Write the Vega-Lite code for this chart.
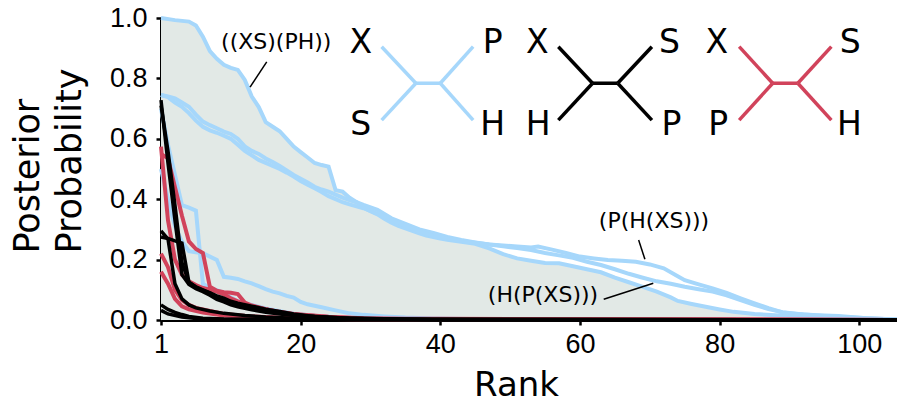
{
  "$schema": "https://vega.github.io/schema/vega-lite/v6.json",
  "width": 736,
  "height": 302,
  "autosize": {"type": "none"},
  "padding": {"left": 161, "top": 18, "right": 0, "bottom": 81},
  "background": "white",
  "config": {
    "view": {"stroke": null},
    "font": "DejaVu Sans",
    "axis": {
      "grid": false,
      "domainColor": "black",
      "domainWidth": 3,
      "tickColor": "black",
      "tickWidth": 2.5,
      "tickSize": 5,
      "labelColor": "black",
      "titleColor": "black",
      "labelFont": "Liberation Sans",
      "labelFontSize": 27,
      "titleFont": "DejaVu Sans",
      "titleFontWeight": "normal",
      "labelFlush": false
    }
  },
  "datasets": {
    "curves": [
      {"series": "((XS)(PH))", "topology": "XS|PH", "rank": 1, "prob": 1.0},
      {"series": "((XS)(PH))", "topology": "XS|PH", "rank": 3, "prob": 0.993},
      {"series": "((XS)(PH))", "topology": "XS|PH", "rank": 5, "prob": 0.988},
      {"series": "((XS)(PH))", "topology": "XS|PH", "rank": 6, "prob": 0.975},
      {"series": "((XS)(PH))", "topology": "XS|PH", "rank": 7, "prob": 0.938},
      {"series": "((XS)(PH))", "topology": "XS|PH", "rank": 8, "prob": 0.89},
      {"series": "((XS)(PH))", "topology": "XS|PH", "rank": 9, "prob": 0.865},
      {"series": "((XS)(PH))", "topology": "XS|PH", "rank": 10, "prob": 0.845},
      {"series": "((XS)(PH))", "topology": "XS|PH", "rank": 11, "prob": 0.835},
      {"series": "((XS)(PH))", "topology": "XS|PH", "rank": 12, "prob": 0.828},
      {"series": "((XS)(PH))", "topology": "XS|PH", "rank": 13, "prob": 0.795},
      {"series": "((XS)(PH))", "topology": "XS|PH", "rank": 14, "prob": 0.74},
      {"series": "((XS)(PH))", "topology": "XS|PH", "rank": 15, "prob": 0.705},
      {"series": "((XS)(PH))", "topology": "XS|PH", "rank": 16, "prob": 0.655},
      {"series": "((XS)(PH))", "topology": "XS|PH", "rank": 17, "prob": 0.64},
      {"series": "((XS)(PH))", "topology": "XS|PH", "rank": 18, "prob": 0.625},
      {"series": "((XS)(PH))", "topology": "XS|PH", "rank": 19, "prob": 0.6},
      {"series": "((XS)(PH))", "topology": "XS|PH", "rank": 20, "prob": 0.574},
      {"series": "((XS)(PH))", "topology": "XS|PH", "rank": 21, "prob": 0.556},
      {"series": "((XS)(PH))", "topology": "XS|PH", "rank": 22, "prob": 0.538},
      {"series": "((XS)(PH))", "topology": "XS|PH", "rank": 23, "prob": 0.52},
      {"series": "((XS)(PH))", "topology": "XS|PH", "rank": 24, "prob": 0.513},
      {"series": "((XS)(PH))", "topology": "XS|PH", "rank": 25, "prob": 0.508},
      {"series": "((XS)(PH))", "topology": "XS|PH", "rank": 26, "prob": 0.43},
      {"series": "((XS)(PH))", "topology": "XS|PH", "rank": 27, "prob": 0.425},
      {"series": "((XS)(PH))", "topology": "XS|PH", "rank": 28, "prob": 0.405},
      {"series": "((XS)(PH))", "topology": "XS|PH", "rank": 29, "prob": 0.39},
      {"series": "((XS)(PH))", "topology": "XS|PH", "rank": 30, "prob": 0.372},
      {"series": "((XS)(PH))", "topology": "XS|PH", "rank": 31, "prob": 0.36},
      {"series": "((XS)(PH))", "topology": "XS|PH", "rank": 32, "prob": 0.35},
      {"series": "((XS)(PH))", "topology": "XS|PH", "rank": 33, "prob": 0.335},
      {"series": "((XS)(PH))", "topology": "XS|PH", "rank": 34, "prob": 0.322},
      {"series": "((XS)(PH))", "topology": "XS|PH", "rank": 35, "prob": 0.312},
      {"series": "((XS)(PH))", "topology": "XS|PH", "rank": 36, "prob": 0.303},
      {"series": "((XS)(PH))", "topology": "XS|PH", "rank": 37, "prob": 0.295},
      {"series": "((XS)(PH))", "topology": "XS|PH", "rank": 38, "prob": 0.287},
      {"series": "((XS)(PH))", "topology": "XS|PH", "rank": 39, "prob": 0.28},
      {"series": "((XS)(PH))", "topology": "XS|PH", "rank": 40, "prob": 0.275},
      {"series": "((XS)(PH))", "topology": "XS|PH", "rank": 41, "prob": 0.27},
      {"series": "((XS)(PH))", "topology": "XS|PH", "rank": 42, "prob": 0.266},
      {"series": "((XS)(PH))", "topology": "XS|PH", "rank": 43, "prob": 0.262},
      {"series": "((XS)(PH))", "topology": "XS|PH", "rank": 44, "prob": 0.259},
      {"series": "((XS)(PH))", "topology": "XS|PH", "rank": 46, "prob": 0.252},
      {"series": "((XS)(PH))", "topology": "XS|PH", "rank": 48, "prob": 0.237},
      {"series": "((XS)(PH))", "topology": "XS|PH", "rank": 50, "prob": 0.218},
      {"series": "((XS)(PH))", "topology": "XS|PH", "rank": 52, "prob": 0.204},
      {"series": "((XS)(PH))", "topology": "XS|PH", "rank": 54, "prob": 0.196},
      {"series": "((XS)(PH))", "topology": "XS|PH", "rank": 56, "prob": 0.189},
      {"series": "((XS)(PH))", "topology": "XS|PH", "rank": 58, "prob": 0.188},
      {"series": "((XS)(PH))", "topology": "XS|PH", "rank": 60, "prob": 0.178},
      {"series": "((XS)(PH))", "topology": "XS|PH", "rank": 62, "prob": 0.168},
      {"series": "((XS)(PH))", "topology": "XS|PH", "rank": 64, "prob": 0.158},
      {"series": "((XS)(PH))", "topology": "XS|PH", "rank": 66, "prob": 0.14},
      {"series": "((XS)(PH))", "topology": "XS|PH", "rank": 68, "prob": 0.125},
      {"series": "((XS)(PH))", "topology": "XS|PH", "rank": 70, "prob": 0.11},
      {"series": "((XS)(PH))", "topology": "XS|PH", "rank": 72, "prob": 0.094},
      {"series": "((XS)(PH))", "topology": "XS|PH", "rank": 74, "prob": 0.075},
      {"series": "((XS)(PH))", "topology": "XS|PH", "rank": 75, "prob": 0.063},
      {"series": "((XS)(PH))", "topology": "XS|PH", "rank": 77, "prob": 0.053},
      {"series": "((XS)(PH))", "topology": "XS|PH", "rank": 79, "prob": 0.044},
      {"series": "((XS)(PH))", "topology": "XS|PH", "rank": 81, "prob": 0.035},
      {"series": "((XS)(PH))", "topology": "XS|PH", "rank": 83, "prob": 0.027},
      {"series": "((XS)(PH))", "topology": "XS|PH", "rank": 86, "prob": 0.02},
      {"series": "((XS)(PH))", "topology": "XS|PH", "rank": 89, "prob": 0.016},
      {"series": "((XS)(PH))", "topology": "XS|PH", "rank": 92, "prob": 0.012},
      {"series": "((XS)(PH))", "topology": "XS|PH", "rank": 95, "prob": 0.009},
      {"series": "((XS)(PH))", "topology": "XS|PH", "rank": 100, "prob": 0.004},
      {"series": "((XS)(PH))", "topology": "XS|PH", "rank": 106.4, "prob": 0.001},

      {"series": "(P(H(XS)))", "topology": "XS|PH", "rank": 1, "prob": 0.745},
      {"series": "(P(H(XS)))", "topology": "XS|PH", "rank": 2, "prob": 0.74},
      {"series": "(P(H(XS)))", "topology": "XS|PH", "rank": 3, "prob": 0.734},
      {"series": "(P(H(XS)))", "topology": "XS|PH", "rank": 4, "prob": 0.72},
      {"series": "(P(H(XS)))", "topology": "XS|PH", "rank": 5, "prob": 0.706},
      {"series": "(P(H(XS)))", "topology": "XS|PH", "rank": 6, "prob": 0.68},
      {"series": "(P(H(XS)))", "topology": "XS|PH", "rank": 7, "prob": 0.657},
      {"series": "(P(H(XS)))", "topology": "XS|PH", "rank": 8, "prob": 0.645},
      {"series": "(P(H(XS)))", "topology": "XS|PH", "rank": 9, "prob": 0.635},
      {"series": "(P(H(XS)))", "topology": "XS|PH", "rank": 10, "prob": 0.624},
      {"series": "(P(H(XS)))", "topology": "XS|PH", "rank": 11, "prob": 0.616},
      {"series": "(P(H(XS)))", "topology": "XS|PH", "rank": 12, "prob": 0.6},
      {"series": "(P(H(XS)))", "topology": "XS|PH", "rank": 13, "prob": 0.575},
      {"series": "(P(H(XS)))", "topology": "XS|PH", "rank": 14, "prob": 0.56},
      {"series": "(P(H(XS)))", "topology": "XS|PH", "rank": 15, "prob": 0.55},
      {"series": "(P(H(XS)))", "topology": "XS|PH", "rank": 16, "prob": 0.535},
      {"series": "(P(H(XS)))", "topology": "XS|PH", "rank": 17, "prob": 0.523},
      {"series": "(P(H(XS)))", "topology": "XS|PH", "rank": 18, "prob": 0.51},
      {"series": "(P(H(XS)))", "topology": "XS|PH", "rank": 19, "prob": 0.495},
      {"series": "(P(H(XS)))", "topology": "XS|PH", "rank": 20, "prob": 0.48},
      {"series": "(P(H(XS)))", "topology": "XS|PH", "rank": 21, "prob": 0.468},
      {"series": "(P(H(XS)))", "topology": "XS|PH", "rank": 22, "prob": 0.455},
      {"series": "(P(H(XS)))", "topology": "XS|PH", "rank": 23, "prob": 0.441},
      {"series": "(P(H(XS)))", "topology": "XS|PH", "rank": 24, "prob": 0.432},
      {"series": "(P(H(XS)))", "topology": "XS|PH", "rank": 25, "prob": 0.425},
      {"series": "(P(H(XS)))", "topology": "XS|PH", "rank": 26, "prob": 0.415},
      {"series": "(P(H(XS)))", "topology": "XS|PH", "rank": 27, "prob": 0.405},
      {"series": "(P(H(XS)))", "topology": "XS|PH", "rank": 28, "prob": 0.397},
      {"series": "(P(H(XS)))", "topology": "XS|PH", "rank": 29, "prob": 0.39},
      {"series": "(P(H(XS)))", "topology": "XS|PH", "rank": 30, "prob": 0.381},
      {"series": "(P(H(XS)))", "topology": "XS|PH", "rank": 32, "prob": 0.365},
      {"series": "(P(H(XS)))", "topology": "XS|PH", "rank": 34, "prob": 0.337},
      {"series": "(P(H(XS)))", "topology": "XS|PH", "rank": 36, "prob": 0.318},
      {"series": "(P(H(XS)))", "topology": "XS|PH", "rank": 38, "prob": 0.3},
      {"series": "(P(H(XS)))", "topology": "XS|PH", "rank": 40, "prob": 0.288},
      {"series": "(P(H(XS)))", "topology": "XS|PH", "rank": 42, "prob": 0.275},
      {"series": "(P(H(XS)))", "topology": "XS|PH", "rank": 44, "prob": 0.265},
      {"series": "(P(H(XS)))", "topology": "XS|PH", "rank": 46, "prob": 0.257},
      {"series": "(P(H(XS)))", "topology": "XS|PH", "rank": 48, "prob": 0.25},
      {"series": "(P(H(XS)))", "topology": "XS|PH", "rank": 50, "prob": 0.247},
      {"series": "(P(H(XS)))", "topology": "XS|PH", "rank": 52, "prob": 0.243},
      {"series": "(P(H(XS)))", "topology": "XS|PH", "rank": 54, "prob": 0.24},
      {"series": "(P(H(XS)))", "topology": "XS|PH", "rank": 55, "prob": 0.243},
      {"series": "(P(H(XS)))", "topology": "XS|PH", "rank": 57, "prob": 0.233},
      {"series": "(P(H(XS)))", "topology": "XS|PH", "rank": 59, "prob": 0.222},
      {"series": "(P(H(XS)))", "topology": "XS|PH", "rank": 61, "prob": 0.21},
      {"series": "(P(H(XS)))", "topology": "XS|PH", "rank": 63, "prob": 0.204},
      {"series": "(P(H(XS)))", "topology": "XS|PH", "rank": 65, "prob": 0.199},
      {"series": "(P(H(XS)))", "topology": "XS|PH", "rank": 67, "prob": 0.196},
      {"series": "(P(H(XS)))", "topology": "XS|PH", "rank": 69, "prob": 0.193},
      {"series": "(P(H(XS)))", "topology": "XS|PH", "rank": 71, "prob": 0.184},
      {"series": "(P(H(XS)))", "topology": "XS|PH", "rank": 73, "prob": 0.171},
      {"series": "(P(H(XS)))", "topology": "XS|PH", "rank": 75, "prob": 0.145},
      {"series": "(P(H(XS)))", "topology": "XS|PH", "rank": 76, "prob": 0.132},
      {"series": "(P(H(XS)))", "topology": "XS|PH", "rank": 78, "prob": 0.118},
      {"series": "(P(H(XS)))", "topology": "XS|PH", "rank": 80, "prob": 0.105},
      {"series": "(P(H(XS)))", "topology": "XS|PH", "rank": 82, "prob": 0.09},
      {"series": "(P(H(XS)))", "topology": "XS|PH", "rank": 84, "prob": 0.072},
      {"series": "(P(H(XS)))", "topology": "XS|PH", "rank": 86, "prob": 0.055},
      {"series": "(P(H(XS)))", "topology": "XS|PH", "rank": 88, "prob": 0.039},
      {"series": "(P(H(XS)))", "topology": "XS|PH", "rank": 90, "prob": 0.025},
      {"series": "(P(H(XS)))", "topology": "XS|PH", "rank": 92, "prob": 0.02},
      {"series": "(P(H(XS)))", "topology": "XS|PH", "rank": 95, "prob": 0.016},
      {"series": "(P(H(XS)))", "topology": "XS|PH", "rank": 98, "prob": 0.013},
      {"series": "(P(H(XS)))", "topology": "XS|PH", "rank": 102, "prob": 0.006},
      {"series": "(P(H(XS)))", "topology": "XS|PH", "rank": 106.4, "prob": 0.002},

      {"series": "(H(P(XS)))", "topology": "XS|PH", "rank": 1, "prob": 0.745},
      {"series": "(H(P(XS)))", "topology": "XS|PH", "rank": 2, "prob": 0.738},
      {"series": "(H(P(XS)))", "topology": "XS|PH", "rank": 3, "prob": 0.72},
      {"series": "(H(P(XS)))", "topology": "XS|PH", "rank": 4, "prob": 0.706},
      {"series": "(H(P(XS)))", "topology": "XS|PH", "rank": 5, "prob": 0.685},
      {"series": "(H(P(XS)))", "topology": "XS|PH", "rank": 6, "prob": 0.66},
      {"series": "(H(P(XS)))", "topology": "XS|PH", "rank": 7, "prob": 0.64},
      {"series": "(H(P(XS)))", "topology": "XS|PH", "rank": 8, "prob": 0.628},
      {"series": "(H(P(XS)))", "topology": "XS|PH", "rank": 9, "prob": 0.62},
      {"series": "(H(P(XS)))", "topology": "XS|PH", "rank": 10, "prob": 0.61},
      {"series": "(H(P(XS)))", "topology": "XS|PH", "rank": 11, "prob": 0.6},
      {"series": "(H(P(XS)))", "topology": "XS|PH", "rank": 12, "prob": 0.58},
      {"series": "(H(P(XS)))", "topology": "XS|PH", "rank": 13, "prob": 0.56},
      {"series": "(H(P(XS)))", "topology": "XS|PH", "rank": 14, "prob": 0.545},
      {"series": "(H(P(XS)))", "topology": "XS|PH", "rank": 15, "prob": 0.53},
      {"series": "(H(P(XS)))", "topology": "XS|PH", "rank": 16, "prob": 0.52},
      {"series": "(H(P(XS)))", "topology": "XS|PH", "rank": 17, "prob": 0.51},
      {"series": "(H(P(XS)))", "topology": "XS|PH", "rank": 18, "prob": 0.5},
      {"series": "(H(P(XS)))", "topology": "XS|PH", "rank": 19, "prob": 0.488},
      {"series": "(H(P(XS)))", "topology": "XS|PH", "rank": 20, "prob": 0.475},
      {"series": "(H(P(XS)))", "topology": "XS|PH", "rank": 21, "prob": 0.46},
      {"series": "(H(P(XS)))", "topology": "XS|PH", "rank": 22, "prob": 0.448},
      {"series": "(H(P(XS)))", "topology": "XS|PH", "rank": 23, "prob": 0.436},
      {"series": "(H(P(XS)))", "topology": "XS|PH", "rank": 24, "prob": 0.424},
      {"series": "(H(P(XS)))", "topology": "XS|PH", "rank": 25, "prob": 0.41},
      {"series": "(H(P(XS)))", "topology": "XS|PH", "rank": 26, "prob": 0.4},
      {"series": "(H(P(XS)))", "topology": "XS|PH", "rank": 27, "prob": 0.39},
      {"series": "(H(P(XS)))", "topology": "XS|PH", "rank": 28, "prob": 0.383},
      {"series": "(H(P(XS)))", "topology": "XS|PH", "rank": 29, "prob": 0.376},
      {"series": "(H(P(XS)))", "topology": "XS|PH", "rank": 30, "prob": 0.37},
      {"series": "(H(P(XS)))", "topology": "XS|PH", "rank": 32, "prob": 0.352},
      {"series": "(H(P(XS)))", "topology": "XS|PH", "rank": 34, "prob": 0.333},
      {"series": "(H(P(XS)))", "topology": "XS|PH", "rank": 36, "prob": 0.312},
      {"series": "(H(P(XS)))", "topology": "XS|PH", "rank": 38, "prob": 0.293},
      {"series": "(H(P(XS)))", "topology": "XS|PH", "rank": 40, "prob": 0.278},
      {"series": "(H(P(XS)))", "topology": "XS|PH", "rank": 42, "prob": 0.269},
      {"series": "(H(P(XS)))", "topology": "XS|PH", "rank": 44, "prob": 0.262},
      {"series": "(H(P(XS)))", "topology": "XS|PH", "rank": 46, "prob": 0.256},
      {"series": "(H(P(XS)))", "topology": "XS|PH", "rank": 48, "prob": 0.25},
      {"series": "(H(P(XS)))", "topology": "XS|PH", "rank": 50, "prob": 0.244},
      {"series": "(H(P(XS)))", "topology": "XS|PH", "rank": 52, "prob": 0.238},
      {"series": "(H(P(XS)))", "topology": "XS|PH", "rank": 54, "prob": 0.232},
      {"series": "(H(P(XS)))", "topology": "XS|PH", "rank": 56, "prob": 0.222},
      {"series": "(H(P(XS)))", "topology": "XS|PH", "rank": 58, "prob": 0.214},
      {"series": "(H(P(XS)))", "topology": "XS|PH", "rank": 60, "prob": 0.206},
      {"series": "(H(P(XS)))", "topology": "XS|PH", "rank": 62, "prob": 0.193},
      {"series": "(H(P(XS)))", "topology": "XS|PH", "rank": 64, "prob": 0.182},
      {"series": "(H(P(XS)))", "topology": "XS|PH", "rank": 66, "prob": 0.168},
      {"series": "(H(P(XS)))", "topology": "XS|PH", "rank": 68, "prob": 0.153},
      {"series": "(H(P(XS)))", "topology": "XS|PH", "rank": 70, "prob": 0.14},
      {"series": "(H(P(XS)))", "topology": "XS|PH", "rank": 72, "prob": 0.128},
      {"series": "(H(P(XS)))", "topology": "XS|PH", "rank": 74, "prob": 0.12},
      {"series": "(H(P(XS)))", "topology": "XS|PH", "rank": 76, "prob": 0.11},
      {"series": "(H(P(XS)))", "topology": "XS|PH", "rank": 78, "prob": 0.102},
      {"series": "(H(P(XS)))", "topology": "XS|PH", "rank": 80, "prob": 0.094},
      {"series": "(H(P(XS)))", "topology": "XS|PH", "rank": 82, "prob": 0.082},
      {"series": "(H(P(XS)))", "topology": "XS|PH", "rank": 84, "prob": 0.066},
      {"series": "(H(P(XS)))", "topology": "XS|PH", "rank": 86, "prob": 0.05},
      {"series": "(H(P(XS)))", "topology": "XS|PH", "rank": 88, "prob": 0.036},
      {"series": "(H(P(XS)))", "topology": "XS|PH", "rank": 90, "prob": 0.026},
      {"series": "(H(P(XS)))", "topology": "XS|PH", "rank": 93, "prob": 0.018},
      {"series": "(H(P(XS)))", "topology": "XS|PH", "rank": 96, "prob": 0.013},
      {"series": "(H(P(XS)))", "topology": "XS|PH", "rank": 100, "prob": 0.008},
      {"series": "(H(P(XS)))", "topology": "XS|PH", "rank": 106.4, "prob": 0.002},

      {"series": "XS|PH d", "topology": "XS|PH", "rank": 1, "prob": 0.7},
      {"series": "XS|PH d", "topology": "XS|PH", "rank": 2, "prob": 0.58},
      {"series": "XS|PH d", "topology": "XS|PH", "rank": 3, "prob": 0.48},
      {"series": "XS|PH d", "topology": "XS|PH", "rank": 4, "prob": 0.38},
      {"series": "XS|PH d", "topology": "XS|PH", "rank": 5, "prob": 0.372},
      {"series": "XS|PH d", "topology": "XS|PH", "rank": 6, "prob": 0.362},
      {"series": "XS|PH d", "topology": "XS|PH", "rank": 7, "prob": 0.12},
      {"series": "XS|PH d", "topology": "XS|PH", "rank": 8, "prob": 0.105},
      {"series": "XS|PH d", "topology": "XS|PH", "rank": 9, "prob": 0.099},
      {"series": "XS|PH d", "topology": "XS|PH", "rank": 10, "prob": 0.09},
      {"series": "XS|PH d", "topology": "XS|PH", "rank": 11, "prob": 0.075},
      {"series": "XS|PH d", "topology": "XS|PH", "rank": 12, "prob": 0.062},
      {"series": "XS|PH d", "topology": "XS|PH", "rank": 13, "prob": 0.055},
      {"series": "XS|PH d", "topology": "XS|PH", "rank": 14, "prob": 0.05},
      {"series": "XS|PH d", "topology": "XS|PH", "rank": 16, "prob": 0.038},
      {"series": "XS|PH d", "topology": "XS|PH", "rank": 18, "prob": 0.029},
      {"series": "XS|PH d", "topology": "XS|PH", "rank": 20, "prob": 0.021},
      {"series": "XS|PH d", "topology": "XS|PH", "rank": 23, "prob": 0.014},
      {"series": "XS|PH d", "topology": "XS|PH", "rank": 26, "prob": 0.009},
      {"series": "XS|PH d", "topology": "XS|PH", "rank": 30, "prob": 0.005},
      {"series": "XS|PH d", "topology": "XS|PH", "rank": 40, "prob": 0.002},
      {"series": "XS|PH d", "topology": "XS|PH", "rank": 106.4, "prob": 0},

      {"series": "XS|PH e", "topology": "XS|PH", "rank": 1, "prob": 0.5},
      {"series": "XS|PH e", "topology": "XS|PH", "rank": 2, "prob": 0.4},
      {"series": "XS|PH e", "topology": "XS|PH", "rank": 3, "prob": 0.31},
      {"series": "XS|PH e", "topology": "XS|PH", "rank": 4, "prob": 0.26},
      {"series": "XS|PH e", "topology": "XS|PH", "rank": 5, "prob": 0.228},
      {"series": "XS|PH e", "topology": "XS|PH", "rank": 6, "prob": 0.224},
      {"series": "XS|PH e", "topology": "XS|PH", "rank": 7, "prob": 0.221},
      {"series": "XS|PH e", "topology": "XS|PH", "rank": 8, "prob": 0.21},
      {"series": "XS|PH e", "topology": "XS|PH", "rank": 9, "prob": 0.199},
      {"series": "XS|PH e", "topology": "XS|PH", "rank": 10, "prob": 0.143},
      {"series": "XS|PH e", "topology": "XS|PH", "rank": 11, "prob": 0.14},
      {"series": "XS|PH e", "topology": "XS|PH", "rank": 12, "prob": 0.136},
      {"series": "XS|PH e", "topology": "XS|PH", "rank": 13, "prob": 0.128},
      {"series": "XS|PH e", "topology": "XS|PH", "rank": 14, "prob": 0.121},
      {"series": "XS|PH e", "topology": "XS|PH", "rank": 15, "prob": 0.112},
      {"series": "XS|PH e", "topology": "XS|PH", "rank": 16, "prob": 0.102},
      {"series": "XS|PH e", "topology": "XS|PH", "rank": 17, "prob": 0.094},
      {"series": "XS|PH e", "topology": "XS|PH", "rank": 18, "prob": 0.088},
      {"series": "XS|PH e", "topology": "XS|PH", "rank": 19, "prob": 0.08},
      {"series": "XS|PH e", "topology": "XS|PH", "rank": 20, "prob": 0.074},
      {"series": "XS|PH e", "topology": "XS|PH", "rank": 21, "prob": 0.06},
      {"series": "XS|PH e", "topology": "XS|PH", "rank": 22, "prob": 0.052},
      {"series": "XS|PH e", "topology": "XS|PH", "rank": 24, "prob": 0.042},
      {"series": "XS|PH e", "topology": "XS|PH", "rank": 26, "prob": 0.032},
      {"series": "XS|PH e", "topology": "XS|PH", "rank": 28, "prob": 0.022},
      {"series": "XS|PH e", "topology": "XS|PH", "rank": 30, "prob": 0.017},
      {"series": "XS|PH e", "topology": "XS|PH", "rank": 33, "prob": 0.012},
      {"series": "XS|PH e", "topology": "XS|PH", "rank": 36, "prob": 0.008},
      {"series": "XS|PH e", "topology": "XS|PH", "rank": 40, "prob": 0.005},
      {"series": "XS|PH e", "topology": "XS|PH", "rank": 50, "prob": 0.002},
      {"series": "XS|PH e", "topology": "XS|PH", "rank": 106.4, "prob": 0},

      {"series": "XP|SH a", "topology": "XP|SH", "rank": 1, "prob": 0.55},
      {"series": "XP|SH a", "topology": "XP|SH", "rank": 2, "prob": 0.535},
      {"series": "XP|SH a", "topology": "XP|SH", "rank": 3, "prob": 0.44},
      {"series": "XP|SH a", "topology": "XP|SH", "rank": 4, "prob": 0.345},
      {"series": "XP|SH a", "topology": "XP|SH", "rank": 5, "prob": 0.26},
      {"series": "XP|SH a", "topology": "XP|SH", "rank": 6, "prob": 0.235},
      {"series": "XP|SH a", "topology": "XP|SH", "rank": 7, "prob": 0.222},
      {"series": "XP|SH a", "topology": "XP|SH", "rank": 8, "prob": 0.11},
      {"series": "XP|SH a", "topology": "XP|SH", "rank": 9, "prob": 0.097},
      {"series": "XP|SH a", "topology": "XP|SH", "rank": 10, "prob": 0.092},
      {"series": "XP|SH a", "topology": "XP|SH", "rank": 11, "prob": 0.09},
      {"series": "XP|SH a", "topology": "XP|SH", "rank": 12, "prob": 0.086},
      {"series": "XP|SH a", "topology": "XP|SH", "rank": 13, "prob": 0.058},
      {"series": "XP|SH a", "topology": "XP|SH", "rank": 14, "prob": 0.048},
      {"series": "XP|SH a", "topology": "XP|SH", "rank": 16, "prob": 0.036},
      {"series": "XP|SH a", "topology": "XP|SH", "rank": 18, "prob": 0.027},
      {"series": "XP|SH a", "topology": "XP|SH", "rank": 20, "prob": 0.02},
      {"series": "XP|SH a", "topology": "XP|SH", "rank": 25, "prob": 0.011},
      {"series": "XP|SH a", "topology": "XP|SH", "rank": 30, "prob": 0.006},
      {"series": "XP|SH a", "topology": "XP|SH", "rank": 40, "prob": 0.002},
      {"series": "XP|SH a", "topology": "XP|SH", "rank": 106.4, "prob": 0},

      {"series": "XP|SH b", "topology": "XP|SH", "rank": 1, "prob": 0.574},
      {"series": "XP|SH b", "topology": "XP|SH", "rank": 2, "prob": 0.33},
      {"series": "XP|SH b", "topology": "XP|SH", "rank": 3, "prob": 0.2},
      {"series": "XP|SH b", "topology": "XP|SH", "rank": 4, "prob": 0.15},
      {"series": "XP|SH b", "topology": "XP|SH", "rank": 5, "prob": 0.128},
      {"series": "XP|SH b", "topology": "XP|SH", "rank": 6, "prob": 0.116},
      {"series": "XP|SH b", "topology": "XP|SH", "rank": 7, "prob": 0.106},
      {"series": "XP|SH b", "topology": "XP|SH", "rank": 8, "prob": 0.1},
      {"series": "XP|SH b", "topology": "XP|SH", "rank": 9, "prob": 0.094},
      {"series": "XP|SH b", "topology": "XP|SH", "rank": 10, "prob": 0.085},
      {"series": "XP|SH b", "topology": "XP|SH", "rank": 11, "prob": 0.072},
      {"series": "XP|SH b", "topology": "XP|SH", "rank": 12, "prob": 0.062},
      {"series": "XP|SH b", "topology": "XP|SH", "rank": 14, "prob": 0.046},
      {"series": "XP|SH b", "topology": "XP|SH", "rank": 16, "prob": 0.036},
      {"series": "XP|SH b", "topology": "XP|SH", "rank": 18, "prob": 0.026},
      {"series": "XP|SH b", "topology": "XP|SH", "rank": 20, "prob": 0.019},
      {"series": "XP|SH b", "topology": "XP|SH", "rank": 25, "prob": 0.01},
      {"series": "XP|SH b", "topology": "XP|SH", "rank": 30, "prob": 0.005},
      {"series": "XP|SH b", "topology": "XP|SH", "rank": 106.4, "prob": 0},

      {"series": "XP|SH c", "topology": "XP|SH", "rank": 1, "prob": 0.22},
      {"series": "XP|SH c", "topology": "XP|SH", "rank": 2, "prob": 0.175},
      {"series": "XP|SH c", "topology": "XP|SH", "rank": 3, "prob": 0.1},
      {"series": "XP|SH c", "topology": "XP|SH", "rank": 4, "prob": 0.066},
      {"series": "XP|SH c", "topology": "XP|SH", "rank": 5, "prob": 0.05},
      {"series": "XP|SH c", "topology": "XP|SH", "rank": 6, "prob": 0.04},
      {"series": "XP|SH c", "topology": "XP|SH", "rank": 8, "prob": 0.03},
      {"series": "XP|SH c", "topology": "XP|SH", "rank": 10, "prob": 0.02},
      {"series": "XP|SH c", "topology": "XP|SH", "rank": 14, "prob": 0.012},
      {"series": "XP|SH c", "topology": "XP|SH", "rank": 20, "prob": 0.006},
      {"series": "XP|SH c", "topology": "XP|SH", "rank": 30, "prob": 0.002},
      {"series": "XP|SH c", "topology": "XP|SH", "rank": 106.4, "prob": 0},

      {"series": "XP|SH d", "topology": "XP|SH", "rank": 1, "prob": 0.16},
      {"series": "XP|SH d", "topology": "XP|SH", "rank": 2, "prob": 0.12},
      {"series": "XP|SH d", "topology": "XP|SH", "rank": 3, "prob": 0.07},
      {"series": "XP|SH d", "topology": "XP|SH", "rank": 4, "prob": 0.045},
      {"series": "XP|SH d", "topology": "XP|SH", "rank": 5, "prob": 0.035},
      {"series": "XP|SH d", "topology": "XP|SH", "rank": 7, "prob": 0.025},
      {"series": "XP|SH d", "topology": "XP|SH", "rank": 10, "prob": 0.015},
      {"series": "XP|SH d", "topology": "XP|SH", "rank": 15, "prob": 0.008},
      {"series": "XP|SH d", "topology": "XP|SH", "rank": 25, "prob": 0.003},
      {"series": "XP|SH d", "topology": "XP|SH", "rank": 106.4, "prob": 0},

      {"series": "XH|SP a", "topology": "XH|SP", "rank": 1, "prob": 0.728},
      {"series": "XH|SP a", "topology": "XH|SP", "rank": 2, "prob": 0.52},
      {"series": "XH|SP a", "topology": "XH|SP", "rank": 3, "prob": 0.33},
      {"series": "XH|SP a", "topology": "XH|SP", "rank": 4, "prob": 0.15},
      {"series": "XH|SP a", "topology": "XH|SP", "rank": 5, "prob": 0.118},
      {"series": "XH|SP a", "topology": "XH|SP", "rank": 6, "prob": 0.104},
      {"series": "XH|SP a", "topology": "XH|SP", "rank": 7, "prob": 0.094},
      {"series": "XH|SP a", "topology": "XH|SP", "rank": 8, "prob": 0.082},
      {"series": "XH|SP a", "topology": "XH|SP", "rank": 9, "prob": 0.068},
      {"series": "XH|SP a", "topology": "XH|SP", "rank": 10, "prob": 0.06},
      {"series": "XH|SP a", "topology": "XH|SP", "rank": 11, "prob": 0.05},
      {"series": "XH|SP a", "topology": "XH|SP", "rank": 12, "prob": 0.044},
      {"series": "XH|SP a", "topology": "XH|SP", "rank": 14, "prob": 0.034},
      {"series": "XH|SP a", "topology": "XH|SP", "rank": 16, "prob": 0.026},
      {"series": "XH|SP a", "topology": "XH|SP", "rank": 18, "prob": 0.02},
      {"series": "XH|SP a", "topology": "XH|SP", "rank": 20, "prob": 0.015},
      {"series": "XH|SP a", "topology": "XH|SP", "rank": 25, "prob": 0.008},
      {"series": "XH|SP a", "topology": "XH|SP", "rank": 30, "prob": 0.004},
      {"series": "XH|SP a", "topology": "XH|SP", "rank": 40, "prob": 0.001},
      {"series": "XH|SP a", "topology": "XH|SP", "rank": 106.4, "prob": 0},

      {"series": "XH|SP b", "topology": "XH|SP", "rank": 1, "prob": 0.71},
      {"series": "XH|SP b", "topology": "XH|SP", "rank": 2, "prob": 0.56},
      {"series": "XH|SP b", "topology": "XH|SP", "rank": 3, "prob": 0.38},
      {"series": "XH|SP b", "topology": "XH|SP", "rank": 4, "prob": 0.19},
      {"series": "XH|SP b", "topology": "XH|SP", "rank": 5, "prob": 0.125},
      {"series": "XH|SP b", "topology": "XH|SP", "rank": 6, "prob": 0.11},
      {"series": "XH|SP b", "topology": "XH|SP", "rank": 7, "prob": 0.1},
      {"series": "XH|SP b", "topology": "XH|SP", "rank": 8, "prob": 0.09},
      {"series": "XH|SP b", "topology": "XH|SP", "rank": 9, "prob": 0.077},
      {"series": "XH|SP b", "topology": "XH|SP", "rank": 10, "prob": 0.068},
      {"series": "XH|SP b", "topology": "XH|SP", "rank": 11, "prob": 0.06},
      {"series": "XH|SP b", "topology": "XH|SP", "rank": 12, "prob": 0.052},
      {"series": "XH|SP b", "topology": "XH|SP", "rank": 14, "prob": 0.04},
      {"series": "XH|SP b", "topology": "XH|SP", "rank": 16, "prob": 0.03},
      {"series": "XH|SP b", "topology": "XH|SP", "rank": 19, "prob": 0.02},
      {"series": "XH|SP b", "topology": "XH|SP", "rank": 22, "prob": 0.013},
      {"series": "XH|SP b", "topology": "XH|SP", "rank": 28, "prob": 0.006},
      {"series": "XH|SP b", "topology": "XH|SP", "rank": 40, "prob": 0.001},
      {"series": "XH|SP b", "topology": "XH|SP", "rank": 106.4, "prob": 0},

      {"series": "XH|SP c", "topology": "XH|SP", "rank": 1, "prob": 0.295},
      {"series": "XH|SP c", "topology": "XH|SP", "rank": 2, "prob": 0.268},
      {"series": "XH|SP c", "topology": "XH|SP", "rank": 3, "prob": 0.12},
      {"series": "XH|SP c", "topology": "XH|SP", "rank": 4, "prob": 0.07},
      {"series": "XH|SP c", "topology": "XH|SP", "rank": 5, "prob": 0.05},
      {"series": "XH|SP c", "topology": "XH|SP", "rank": 6, "prob": 0.04},
      {"series": "XH|SP c", "topology": "XH|SP", "rank": 8, "prob": 0.03},
      {"series": "XH|SP c", "topology": "XH|SP", "rank": 10, "prob": 0.022},
      {"series": "XH|SP c", "topology": "XH|SP", "rank": 13, "prob": 0.015},
      {"series": "XH|SP c", "topology": "XH|SP", "rank": 16, "prob": 0.01},
      {"series": "XH|SP c", "topology": "XH|SP", "rank": 20, "prob": 0.006},
      {"series": "XH|SP c", "topology": "XH|SP", "rank": 30, "prob": 0.002},
      {"series": "XH|SP c", "topology": "XH|SP", "rank": 106.4, "prob": 0},

      {"series": "XH|SP d", "topology": "XH|SP", "rank": 1, "prob": 0.275},
      {"series": "XH|SP d", "topology": "XH|SP", "rank": 2, "prob": 0.27},
      {"series": "XH|SP d", "topology": "XH|SP", "rank": 3, "prob": 0.262},
      {"series": "XH|SP d", "topology": "XH|SP", "rank": 4, "prob": 0.255},
      {"series": "XH|SP d", "topology": "XH|SP", "rank": 5, "prob": 0.125},
      {"series": "XH|SP d", "topology": "XH|SP", "rank": 6, "prob": 0.108},
      {"series": "XH|SP d", "topology": "XH|SP", "rank": 7, "prob": 0.098},
      {"series": "XH|SP d", "topology": "XH|SP", "rank": 8, "prob": 0.09},
      {"series": "XH|SP d", "topology": "XH|SP", "rank": 9, "prob": 0.08},
      {"series": "XH|SP d", "topology": "XH|SP", "rank": 10, "prob": 0.072},
      {"series": "XH|SP d", "topology": "XH|SP", "rank": 11, "prob": 0.062},
      {"series": "XH|SP d", "topology": "XH|SP", "rank": 12, "prob": 0.056},
      {"series": "XH|SP d", "topology": "XH|SP", "rank": 14, "prob": 0.046},
      {"series": "XH|SP d", "topology": "XH|SP", "rank": 16, "prob": 0.036},
      {"series": "XH|SP d", "topology": "XH|SP", "rank": 18, "prob": 0.028},
      {"series": "XH|SP d", "topology": "XH|SP", "rank": 20, "prob": 0.02},
      {"series": "XH|SP d", "topology": "XH|SP", "rank": 23, "prob": 0.012},
      {"series": "XH|SP d", "topology": "XH|SP", "rank": 27, "prob": 0.007},
      {"series": "XH|SP d", "topology": "XH|SP", "rank": 35, "prob": 0.003},
      {"series": "XH|SP d", "topology": "XH|SP", "rank": 106.4, "prob": 0},

      {"series": "XH|SP e", "topology": "XH|SP", "rank": 1, "prob": 0.05},
      {"series": "XH|SP e", "topology": "XH|SP", "rank": 2, "prob": 0.035},
      {"series": "XH|SP e", "topology": "XH|SP", "rank": 3, "prob": 0.025},
      {"series": "XH|SP e", "topology": "XH|SP", "rank": 4, "prob": 0.018},
      {"series": "XH|SP e", "topology": "XH|SP", "rank": 5, "prob": 0.012},
      {"series": "XH|SP e", "topology": "XH|SP", "rank": 7, "prob": 0.006},
      {"series": "XH|SP e", "topology": "XH|SP", "rank": 10, "prob": 0.003},
      {"series": "XH|SP e", "topology": "XH|SP", "rank": 20, "prob": 0.001},
      {"series": "XH|SP e", "topology": "XH|SP", "rank": 106.4, "prob": 0},

      {"series": "XH|SP f", "topology": "XH|SP", "rank": 1, "prob": 0.032},
      {"series": "XH|SP f", "topology": "XH|SP", "rank": 2, "prob": 0.02},
      {"series": "XH|SP f", "topology": "XH|SP", "rank": 4, "prob": 0.01},
      {"series": "XH|SP f", "topology": "XH|SP", "rank": 6, "prob": 0.005},
      {"series": "XH|SP f", "topology": "XH|SP", "rank": 10, "prob": 0.002},
      {"series": "XH|SP f", "topology": "XH|SP", "rank": 106.4, "prob": 0}
    ],
    "branches": [
      {"topology": "XS|PH", "rank": 32.6, "prob": 0.905, "rank2": 37.5, "prob2": 0.784},
      {"topology": "XS|PH", "rank": 32.6, "prob": 0.662, "rank2": 37.5, "prob2": 0.784},
      {"topology": "XS|PH", "rank": 37.5, "prob": 0.784, "rank2": 41.0, "prob2": 0.784},
      {"topology": "XS|PH", "rank": 41.0, "prob": 0.784, "rank2": 45.7, "prob2": 0.905},
      {"topology": "XS|PH", "rank": 41.0, "prob": 0.784, "rank2": 45.7, "prob2": 0.662},
      {"topology": "XH|SP", "rank": 57.9, "prob": 0.905, "rank2": 62.8, "prob2": 0.784},
      {"topology": "XH|SP", "rank": 57.9, "prob": 0.662, "rank2": 62.8, "prob2": 0.784},
      {"topology": "XH|SP", "rank": 62.8, "prob": 0.784, "rank2": 66.4, "prob2": 0.784},
      {"topology": "XH|SP", "rank": 66.4, "prob": 0.784, "rank2": 71.3, "prob2": 0.905},
      {"topology": "XH|SP", "rank": 66.4, "prob": 0.784, "rank2": 71.3, "prob2": 0.662},
      {"topology": "XP|SH", "rank": 83.8, "prob": 0.905, "rank2": 88.6, "prob2": 0.784},
      {"topology": "XP|SH", "rank": 83.8, "prob": 0.662, "rank2": 88.6, "prob2": 0.784},
      {"topology": "XP|SH", "rank": 88.6, "prob": 0.784, "rank2": 92.2, "prob2": 0.784},
      {"topology": "XP|SH", "rank": 92.2, "prob": 0.784, "rank2": 97.0, "prob2": 0.905},
      {"topology": "XP|SH", "rank": 92.2, "prob": 0.784, "rank2": 97.0, "prob2": 0.662}
    ],
    "tips": [
      {"label": "X", "rank": 29.6, "prob": 0.918},
      {"label": "S", "rank": 29.6, "prob": 0.646},
      {"label": "P", "rank": 48.5, "prob": 0.918},
      {"label": "H", "rank": 48.5, "prob": 0.646},
      {"label": "X", "rank": 54.9, "prob": 0.918},
      {"label": "H", "rank": 55.0, "prob": 0.646},
      {"label": "S", "rank": 73.8, "prob": 0.918},
      {"label": "P", "rank": 74.1, "prob": 0.646},
      {"label": "X", "rank": 80.6, "prob": 0.918},
      {"label": "P", "rank": 80.8, "prob": 0.646},
      {"label": "S", "rank": 99.7, "prob": 0.918},
      {"label": "H", "rank": 99.6, "prob": 0.646}
    ],
    "notes": [
      {"label": "((XS)(PH))", "rank": 17.5, "prob": 0.919},
      {"label": "(P(H(XS)))", "rank": 71.6, "prob": 0.329},
      {"label": "(H(P(XS)))", "rank": 55.7, "prob": 0.083}
    ],
    "leaders": [
      {"rank": 16.14, "prob": 0.855, "rank2": 13.75, "prob2": 0.771},
      {"rank": 69.4, "prob": 0.265, "rank2": 70.3, "prob2": 0.201},
      {"rank": 64.4, "prob": 0.0685, "rank2": 71.5, "prob2": 0.1215}
    ]
  },
  "layer": [
    {
      "data": {"name": "curves"},
      "transform": [{"filter": "datum.series == '((XS)(PH))'"}],
      "mark": {"type": "area", "color": "#e2e9e6"},
      "encoding": {
        "x": {
          "field": "rank", "type": "quantitative",
          "scale": {"domain": [1, 106.4], "nice": false, "zero": false},
          "axis": {
            "values": [1, 21, 41, 61, 81, 101],
            "labelExpr": "datum.value == 1 ? '1' : format(datum.value - 1, 'd')",
            "labelPadding": 6,
            "title": "Rank",
            "titleFontSize": 34,
            "titleX": 355,
            "titleY": 75,
            "titleAlign": "center",
            "titleBaseline": "alphabetic"
          }
        },
        "y": {
          "field": "prob", "type": "quantitative",
          "scale": {"domain": [0, 1], "nice": false},
          "axis": {
            "values": [0, 0.2, 0.4, 0.6, 0.8, 1.0],
            "format": ".1f",
            "labelPadding": 9,
            "title": ["Posterior", "Probability"],
            "titleFontSize": 35,
            "titleAngle": 270,
            "titleAlign": "left",
            "titleBaseline": "alphabetic",
            "titleLineHeight": 42,
            "titleX": -123,
            "titleY": 235
          }
        }
      }
    },
    {
      "mark": {"type": "rule", "color": "black", "strokeWidth": 2.5},
      "encoding": {"y": {"datum": 1}}
    },
    {
      "data": {"name": "curves"},
      "transform": [{"filter": "datum.topology == 'XS|PH'"}],
      "mark": {"type": "line", "strokeWidth": 4},
      "encoding": {
        "x": {"field": "rank", "type": "quantitative"},
        "y": {"field": "prob", "type": "quantitative"},
        "detail": {"field": "series"},
        "color": {"field": "topology", "type": "nominal", "legend": null,
          "scale": {"domain": ["XS|PH", "XH|SP", "XP|SH"], "range": ["#a6d7fb", "#000000", "#d1435b"]}}
      }
    },
    {
      "data": {"name": "curves"},
      "transform": [{"filter": "datum.topology == 'XP|SH'"}],
      "mark": {"type": "line", "strokeWidth": 4},
      "encoding": {
        "x": {"field": "rank", "type": "quantitative"},
        "y": {"field": "prob", "type": "quantitative"},
        "detail": {"field": "series"},
        "color": {"field": "topology", "type": "nominal", "legend": null}
      }
    },
    {
      "data": {"name": "curves"},
      "transform": [{"filter": "datum.topology == 'XH|SP'"}],
      "mark": {"type": "line", "strokeWidth": 3.5},
      "encoding": {
        "x": {"field": "rank", "type": "quantitative"},
        "y": {"field": "prob", "type": "quantitative"},
        "detail": {"field": "series"},
        "color": {"field": "topology", "type": "nominal", "legend": null}
      }
    },
    {
      "data": {"name": "branches"},
      "mark": {"type": "rule", "strokeWidth": 3.5},
      "encoding": {
        "x": {"field": "rank", "type": "quantitative"},
        "y": {"field": "prob", "type": "quantitative"},
        "x2": {"field": "rank2"},
        "y2": {"field": "prob2"},
        "color": {"field": "topology", "type": "nominal", "legend": null}
      }
    },
    {
      "data": {"name": "tips"},
      "mark": {"type": "text", "font": "DejaVu Sans", "fontSize": 33, "color": "black", "align": "center", "baseline": "middle"},
      "encoding": {
        "x": {"field": "rank", "type": "quantitative"},
        "y": {"field": "prob", "type": "quantitative"},
        "text": {"field": "label"}
      }
    },
    {
      "data": {"name": "leaders"},
      "mark": {"type": "rule", "color": "black", "strokeWidth": 1.5},
      "encoding": {
        "x": {"field": "rank", "type": "quantitative"},
        "y": {"field": "prob", "type": "quantitative"},
        "x2": {"field": "rank2"},
        "y2": {"field": "prob2"}
      }
    },
    {
      "data": {"name": "notes"},
      "mark": {"type": "text", "font": "DejaVu Sans", "fontSize": 22, "color": "black", "align": "center", "baseline": "middle"},
      "encoding": {
        "x": {"field": "rank", "type": "quantitative"},
        "y": {"field": "prob", "type": "quantitative"},
        "text": {"field": "label"}
      }
    }
  ]
}
